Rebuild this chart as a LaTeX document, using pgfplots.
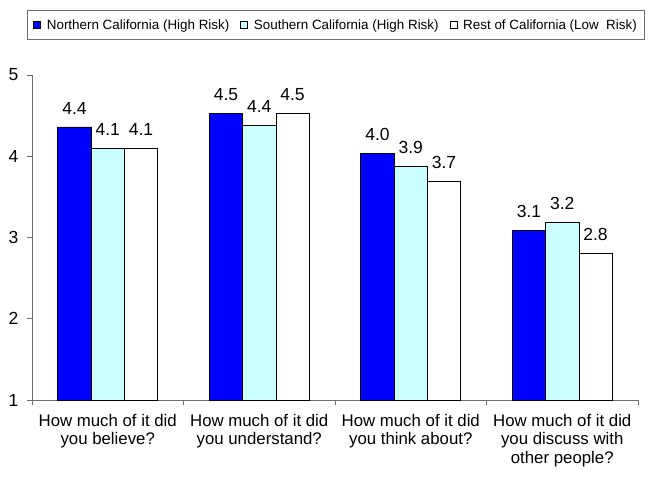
\documentclass[border=0pt]{standalone}
\usepackage{fontspec}
\setmainfont{Liberation Sans}
\usepackage{pgfplots}
\pgfplotsset{compat=1.18}
\definecolor{nblue}{RGB}{0,0,255}
\definecolor{scyan}{RGB}{204,255,255}
\definecolor{axgray}{RGB}{110,110,110}
\begin{document}
\begin{tikzpicture}
\begin{axis}[
  at={(0,0)}, anchor=south west,
  scale only axis,
  width=606pt, height=325pt,
  ymin=1, ymax=5,
  xmin=-0.5, xmax=3.5,
  ybar=0pt,
  bar width=33.3pt,
  axis x line*=bottom,
  axis y line*=left,
  axis line style={axgray, line width=0.8pt},
  ytick={1,2,3,4,5},
  yticklabel style={font=\fontsize{17.5}{19}\selectfont, xshift=-5pt},
  /pgf/number format/assume math mode=true,
  tick align=outside,
  major tick length=5pt,
  tick style={axgray, line width=0.8pt},
  xtick={-0.5,0.5,1.5,2.5,3.5},
  xticklabels={},
  extra x ticks={0,1,2,3},
  extra x tick labels={How much of it did\\you believe?, How much of it did\\you understand?, How much of it did\\you think about?, How much of it did\\you discuss with\\other people?},
  extra x tick style={major tick length=0pt, xticklabel style={font=\fontsize{16.8}{18.2}\selectfont, align=center, yshift=-11pt}},
  nodes near coords,
  nodes near coords style={font=\fontsize{17.5}{19}\selectfont, yshift=9pt, /pgf/number format/fixed, /pgf/number format/fixed zerofill, /pgf/number format/precision=1, /pgf/number format/assume math mode=true},
  legend columns=3,
  legend style={at={(axis description cs:0.5017,1.1538)}, anchor=center, draw=axgray, line width=0.8pt, font=\fontsize{13.4}{15}\selectfont, inner xsep=6pt, inner ysep=7pt, /tikz/every odd column/.append style={column sep=4pt}, /tikz/every even column/.append style={column sep=9pt}},
  legend image code/.code={\draw[#1, draw=black, line width=0.6pt] (0pt,-3.5pt) rectangle (7pt,3.5pt);},
]
\addplot[fill=nblue, draw=black, line width=0.8pt] coordinates {(0,4.36) (1,4.53) (2,4.03) (3,3.09)};
\addplot[fill=scyan, draw=black, line width=0.8pt] coordinates {(0,4.1) (1,4.38) (2,3.88) (3,3.19)};
\addplot[fill=white, draw=black, line width=0.8pt] coordinates {(0,4.1) (1,4.53) (2,3.69) (3,2.8)};
\legend{Northern California (High Risk), Southern California (High Risk), Rest of California (Low\ \ Risk)}
\end{axis}
\path[use as bounding box] (-32pt,-85pt) rectangle (618pt,400pt);
\end{tikzpicture}
\end{document}
